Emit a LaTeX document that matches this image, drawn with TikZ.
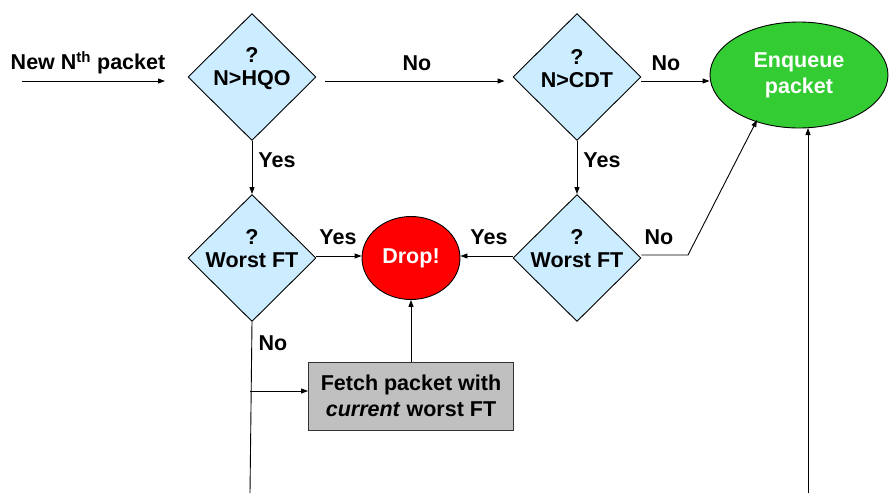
\documentclass[tikz,border=0pt]{standalone}
\usepackage{fontspec}
\setmainfont{Liberation Sans}
\usetikzlibrary{shapes.geometric,arrows.meta,calc}
\definecolor{dblue}{HTML}{CCECFF}
\definecolor{egreen}{HTML}{33CC33}
\definecolor{dred}{HTML}{FF0000}
\definecolor{bgray}{HTML}{C0C0C0}
\begin{document}
\begin{tikzpicture}[x=1pt,y=-1pt,
  every node/.style={font=\fontsize{21.5}{23}\selectfont\bfseries},
  dia/.style={diamond,draw=black,line width=0.9pt,fill=dblue,minimum width=128pt,minimum height=127pt,inner sep=0pt,aspect=1},
  qtext/.style={align=center,inner sep=0pt},
  ell/.style={ellipse,draw=black,line width=0.9pt,inner sep=0pt,align=center,text=white,font=\fontsize{21.5}{26}\selectfont\bfseries},
  fbox/.style={rectangle,draw=black!80,line width=0.9pt,fill=bgray,minimum width=205pt,minimum height=68pt,align=center,inner sep=0pt,font=\fontsize{21.5}{26}\selectfont\bfseries},
  lbl/.style={inner sep=0pt},
  arr/.style={draw=black,line width=0.9pt,-{Triangle[length=7pt,width=5pt]}},
  ln/.style={draw=black,line width=0.9pt}
]
\useasboundingbox (0,0) rectangle (889,493);

% diamonds
\node[dia] (d1) at (252,77) {};
\node[qtext] (t1) at (252,69) {?\\N>HQO};
\node[dia] (d2) at (577,77) {};
\node[qtext] (t2) at (577,69) {?\\N>CDT};
\node[dia] (w1) at (252,258) {};
\node[qtext] (t3) at (252,249) {?\\Worst FT};
\node[dia] (w2) at (577,258) {};
\node[qtext] (t4) at (577,249) {?\\Worst FT};

% ellipses
\node[ell,fill=egreen,minimum width=178pt,minimum height=106pt] (en) at (799,75) {Enqueue\\packet};
\node[ell,fill=dred,minimum width=98pt,minimum height=83pt] (dr) at (411,258) {Drop!};

% box
\node[fbox] (bx) at (411,396) {Fetch packet with\\\textit{current} worst FT};

% entry
\node[lbl] (newp) at (88,63) {New N\textsuperscript{th} packet};
\coordinate (in0) at (22,81);
\coordinate (in1) at (165,81);
\draw[arr] (in0) -- (in1);

% connectors
\draw[arr] ($(d1.east)+(9,4)$) -- ($(d2.west)+(-8,4)$);
\draw[arr] ($(d2.east)+(0,4)$) -- ($(en.west)+(0,6)$);
\draw[arr] (d1.south) -- (w1.north);
\draw[arr] (d2.south) -- (w2.north);
\draw[arr] ($(w1.east)+(0,-2)$) -- ($(dr.west)+(0,-2)$);
\draw[arr] ($(w2.west)+(0,-2)$) -- ($(dr.east)+(0,-2)$);
\coordinate (k1) at (688,255);
\coordinate (k2) at (757,120);
\draw[arr] ($(w2.east)+(0,-3)$) -- (k1) -- (k2);
\coordinate (bl) at (250,493);
\draw[ln] (w1.south) -- (bl);
\draw[arr] (bl |- bx.west) ++(0,-5) -- ($(bx.west)+(0,-5)$);
\draw[arr] (bx.north) -- (dr.south);
\coordinate (rb) at (808,493);
\draw[arr] (rb) -- (808,128);

% labels
\node[lbl] (ln1) at (417,63) {No};
\node[lbl] (ln2) at (666,63) {No};
\node[lbl] (ly1) at (277,160) {Yes};
\node[lbl] (ly2) at (602,160) {Yes};
\node[lbl] (ly3) at (338,237) {Yes};
\node[lbl] (ly4) at (489,237) {Yes};
\node[lbl] (ln3) at (659,237) {No};
\node[lbl] (ln4) at (273,343) {No};
\end{tikzpicture}
\end{document}
